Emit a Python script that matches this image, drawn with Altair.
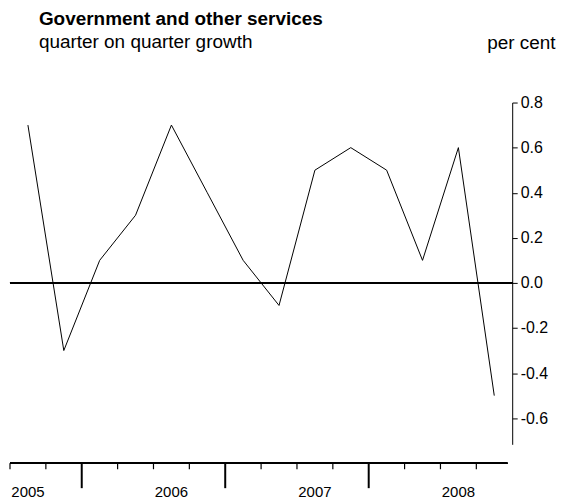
import altair as alt
import pandas as pd

# ---- data ----
quarters = ["2005Q3", "2005Q4",
            "2006Q1", "2006Q2", "2006Q3", "2006Q4",
            "2007Q1", "2007Q2", "2007Q3", "2007Q4",
            "2008Q1", "2008Q2", "2008Q3", "2008Q4"]
growth = [0.7, -0.3, 0.1, 0.3, 0.7, 0.4, 0.1, -0.1, 0.5, 0.6, 0.5, 0.1, 0.6, -0.5]
years = ["2005", "2006", "2007", "2008"]
y_ticks = [-0.6, -0.4, -0.2, 0.0, 0.2, 0.4, 0.6, 0.8]

FONT = "Liberation Sans"

df = pd.DataFrame({"quarter": quarters, "pos": list(range(len(quarters))), "growth": growth})

# quarter boundaries (ticks on the time axis); long ticks where a year starts
bounds = pd.DataFrame({
    "pos": [p - 0.5 for p in range(len(quarters))],
    "kind": ["long" if q.endswith("Q1") else "short" for q in quarters],
})
# year labels placed at the Q3 of each year
ylab = pd.DataFrame({
    "year": years,
    "pos": [quarters.index(y + "Q3") for y in years],
})

xscale = alt.Scale(domain=[-0.5, 13.5], nice=False, zero=False)
yscale = alt.Scale(domain=[-0.716, 0.8], range=[343, 0], nice=False, zero=False)

yaxis = alt.Axis(
    orient="right", values=y_ticks,
    labelExpr="replace(format(datum.value, '.1f'), '\u2212', '-')",
    tickSize=5, labelPadding=3, grid=False,
    domainColor="black", tickColor="black", labelColor="black",
    labelFont=FONT, labelFontSize=16,
    title="per cent", titleAngle=0, titleAlign="right", titleBaseline="alphabetic",
    titleX=43, titleY=-54, titleFont=FONT, titleFontSize=19,
    titleFontWeight="normal", titleColor="black",
)

line = alt.Chart(df).mark_line(color="black", strokeWidth=1).encode(
    x=alt.X("pos:Q", scale=xscale, axis=None),
    y=alt.Y("growth:Q", scale=yscale, axis=yaxis),
)

zero = alt.Chart(df).mark_rule(color="black", strokeWidth=1.6).encode(
    y=alt.datum(0),
)

axis_line = alt.Chart(df).mark_rule(color="black", strokeWidth=1.3).encode(
    x=alt.value(0), x2=alt.value(499), y=alt.value(362),
)

short_ticks = alt.Chart(bounds).transform_filter("datum.kind == 'short'").mark_rule(
    color="black", strokeWidth=1.2).encode(
    x=alt.X("pos:Q"), y=alt.value(362), y2=alt.value(368),
)
long_ticks = alt.Chart(bounds).transform_filter("datum.kind == 'long'").mark_rule(
    color="black", strokeWidth=2).encode(
    x=alt.X("pos:Q"), y=alt.value(362), y2=alt.value(387),
)

year_text = alt.Chart(ylab).mark_text(
    font=FONT, fontSize=15, color="black", align="center", baseline="alphabetic"
).encode(x=alt.X("pos:Q"), y=alt.value(396), text="year:N")

chart = alt.layer(line, zero, axis_line, short_ticks, long_ticks, year_text).properties(
    width=504, height=398,
    autosize=alt.AutoSizeParams(type="none"),
    padding={"left": 2, "top": 94, "right": 55, "bottom": 0},
    title=alt.TitleParams(
        text="Government and other services",
        subtitle="quarter on quarter growth",
        anchor="start", frame="group", dx=29, offset=-18,
        font=FONT, fontSize=19, fontWeight="bold", color="black",
        subtitleFont=FONT, subtitleFontSize=19, subtitleColor="black",
        subtitlePadding=4,
    ),
).configure_view(stroke=None)

chart.save("out.html", embed_options={"renderer": "svg", "actions": False})
